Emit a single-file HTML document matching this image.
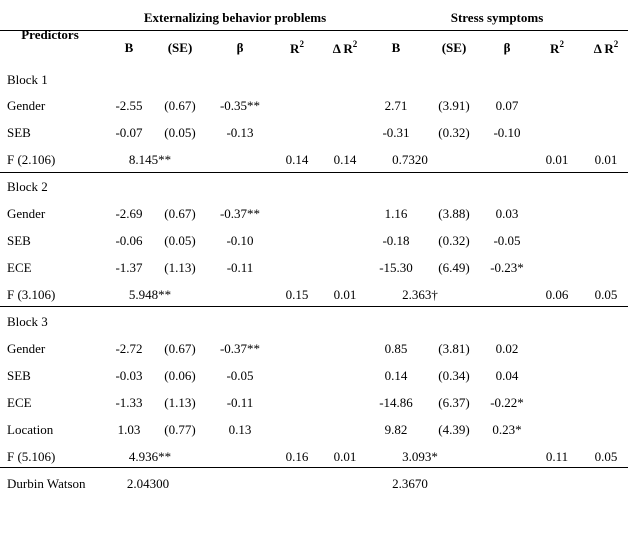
<!DOCTYPE html>
<html><head><meta charset="utf-8"><style>
body{margin:0;width:628px;height:535px;background:#fff;position:relative;overflow:hidden;font-family:"Liberation Serif",serif;font-size:13px;color:#000}
.t{position:absolute;white-space:nowrap;transform:translate(-50%,-50%)}
.l{position:absolute;white-space:nowrap;transform:translateY(-50%);left:7px}
.b{font-weight:bold}
.hr{position:absolute;left:0;width:628px;height:1px;background:#000}
sup{font-size:9px;vertical-align:6px}
</style></head><body>
<div class="t b" style="left:235px;top:18px">Externalizing behavior problems</div>
<div class="t b" style="left:497px;top:18px">Stress symptoms</div>
<div class="hr" style="top:30px"></div>
<div class="t b" style="left:50px;top:35px">Predictors</div>
<div id="rows"></div>
<div class="hr" style="top:172px"></div>
<div class="hr" style="top:306px"></div>
<div class="hr" style="top:467px"></div>
<script>
const colX=[129,180,240,297,345,396,454,507,557,606];
const heads=['B','(SE)','β','R<sup>2</sup>','Δ R<sup>2</sup>','B','(SE)','β','R<sup>2</sup>','Δ R<sup>2</sup>'];
const rows=[
['Block 1',80,[]],
['Gender',106,['-2.55','(0.67)','-0.35**','','','2.71','(3.91)','0.07']],
['SEB',133,['-0.07','(0.05)','-0.13','','','-0.31','(0.32)','-0.10']],
['F (2.106)',160,[],'8.145**','0.14','0.14','0.7320','0.01','0.01'],
['Block 2',187,[]],
['Gender',214,['-2.69','(0.67)','-0.37**','','','1.16','(3.88)','0.03']],
['SEB',241,['-0.06','(0.05)','-0.10','','','-0.18','(0.32)','-0.05']],
['ECE',268,['-1.37','(1.13)','-0.11','','','-15.30','(6.49)','-0.23*']],
['F (3.106)',295,[],'5.948**','0.15','0.01','2.363†','0.06','0.05'],
['Block 3',322,[]],
['Gender',349,['-2.72','(0.67)','-0.37**','','','0.85','(3.81)','0.02']],
['SEB',376,['-0.03','(0.06)','-0.05','','','0.14','(0.34)','0.04']],
['ECE',403,['-1.33','(1.13)','-0.11','','','-14.86','(6.37)','-0.22*']],
['Location',430,['1.03','(0.77)','0.13','','','9.82','(4.39)','0.23*']],
['F (5.106)',457,[],'4.936**','0.16','0.01','3.093*','0.11','0.05'],
['Durbin Watson',484,[],'2.04300','','','2.3670','','']
];
const R=document.getElementById('rows');
function add(cls,x,y,html,name){const d=document.createElement('div');d.className=cls;if(x!==null)d.style.left=x+'px';d.style.top=y+'px';d.innerHTML=html;


R.appendChild(d);}
heads.forEach((h,i)=>add('t b',colX[i],48,h,'column-header'));
rows.forEach(r=>{
 add('l',null,r[1],r[0],'row-label');
 r[2].forEach((v,i)=>{if(v)add('t',colX[i],r[1],v,'cell-value');});
 if(r.length>3){
  add('t',r[0]==='Durbin Watson'?148:150,r[1],r[3],'f-value');
  if(r[4])add('t',297,r[1],r[4],'r2-value');
  if(r[5])add('t',345,r[1],r[5],'delta-r2-value');
  add('t',r[6]==='0.7320'||r[6]==='2.3670'?410:420,r[1],r[6],'f-value');
  if(r[7])add('t',557,r[1],r[7],'r2-value');
  if(r[8])add('t',606,r[1],r[8],'delta-r2-value');
 }
});
</script>
</body></html>
